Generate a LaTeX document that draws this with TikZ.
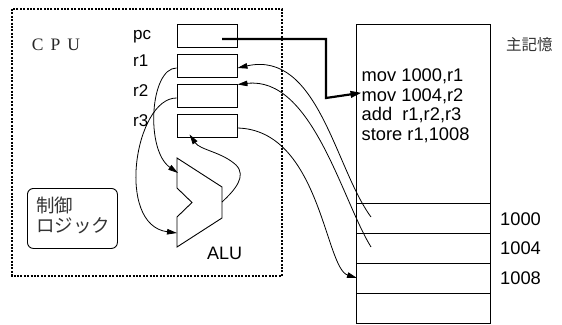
\documentclass[tikz,border=0pt]{standalone}
\usepackage{fontspec}
\setmainfont{Liberation Sans}
\newfontfamily\jpfont{Noto Sans CJK JP}
\newfontfamily\serifcpu{Liberation Serif}
\usetikzlibrary{arrows.meta,calc}
\tikzset{
  reg/.style={draw, line width=0.9pt, minimum width=60pt, minimum height=23pt, inner sep=0pt},
  lbl/.style={font=\fontsize{17}{17}\selectfont, inner sep=0pt, anchor=base west},
  memtxt/.style={font=\fontsize{18.3}{19}\selectfont, inner sep=0pt, anchor=base west},
  conn/.style={line width=0.8pt, -{Triangle[length=10pt,width=5.5pt]}},
  thickconn/.style={line width=2.2pt, -{Triangle[length=11pt,width=6.5pt]}},
  cpubox/.style={line width=2pt, dash pattern=on 2pt off 1.4pt},
  rowline/.style={line width=0.9pt}
}
\begin{document}
\begin{tikzpicture}[x=1pt,y=-1pt]
\useasboundingbox (0,0) rectangle (562,324);
% CPU dotted box
\draw[cpubox] (12,9) rectangle (282,276);
\node[font=\serifcpu\fontsize{17.5}{17.5}\selectfont, text=black!85, inner sep=0pt] (cpu) at (56,45) {C\hspace{7pt}P\hspace{7pt}U};
% registers
\node[reg] (pc) at (207,35.5) {};
\node[reg] (r1) at (207,65.5) {};
\node[reg] (r2) at (207,95.5) {};
\node[reg] (r3) at (207,125.5) {};
\node[lbl] (lpc) at (133,39) {pc};
\node[lbl] (lr1) at (133,66) {r1};
\node[lbl] (lr2) at (133,96) {r2};
\node[lbl] (lr3) at (133,126) {r3};
% control logic
\node[draw, line width=0.9pt, rounded corners=6pt, minimum width=90pt, minimum height=60pt, anchor=north west] (ctl) at (27,188) {};
\node[font=\jpfont\fontsize{18.5}{19.5}\selectfont, text=black!80, inner sep=0pt, align=left, anchor=north west] (ctltxt) at (36,197) {制御\\ロジック};
% ALU
\draw[line width=0.9pt] (177,158) -- (222,187) -- (222,218) -- (177,247) -- (177,217) -- (192,202.5) -- (177,188) -- cycle;
\coordinate (aluinA) at (178,173);
\coordinate (aluinB) at (177,233);
\coordinate (aluout) at (222,202);
\node[lbl, font=\fontsize{18}{18}\selectfont] (alu) at (207,259.5) {ALU};
% memory
\node[draw, line width=0.9pt, minimum width=134pt, minimum height=299pt, anchor=north west, inner sep=0pt] (mem) at (356,24) {};
\draw[rowline] (356,203) -- (490,203);
\draw[rowline] (356,233) -- (490,233);
\draw[rowline] (356,263) -- (490,263);
\draw[rowline] (356,293) -- (490,293);
\node[font=\jpfont\fontsize{15.5}{15.5}\selectfont, text=black!80, inner sep=0pt, anchor=west] (memlbl) at (506,45) {主記憶};
\node[memtxt] (m1) at (361.5,81.5) {mov 1000,r1};
\node[memtxt] (m2) at (361.5,101) {mov 1004,r2};
\node[memtxt] (m3) at (361.5,120.5) {add\ \ r1,r2,r3};
\node[memtxt] (m4) at (361.5,140) {store r1,1008};
\node[memtxt] (a1000) at (500,225) {1000};
\node[memtxt] (a1004) at (500,254.5) {1004};
\node[memtxt] (a1008) at (500,284) {1008};
\coordinate (w1000) at (371,217);
\coordinate (w1004) at (371,247);
\coordinate (w1008) at (357,278);
% connectors
\draw[thickconn] ($(pc.center)+(15,3.5)$) -| (326,98) -- ($(m2.west)+(0,-3)$);
\draw[conn] (w1000) .. controls (335,168) and (318,50) .. ($(r1.east)+(0,2.5)$);
\draw[conn] (w1004) .. controls (342,200) and (312,76) .. ($(r2.east)+(0,-11)$);
\draw[conn] ($(r3.east)+(0,2.5)$) .. controls (320,130) and (325,268) .. (w1008);
\draw[conn] ($(r1.west)+(0,2.5)$) .. controls (150,68) and (145,150) .. (aluinA);
\draw[conn] ($(r2.west)+(0,2.5)$) .. controls (135,98) and (115,225) .. (aluinB);
\draw[conn] (aluout) .. controls (235,190) and (247,176) .. (236,165) .. controls (222,152) and (200,150) .. ($(r3.south west)+(13,-3)$);
\end{tikzpicture}
\end{document}
